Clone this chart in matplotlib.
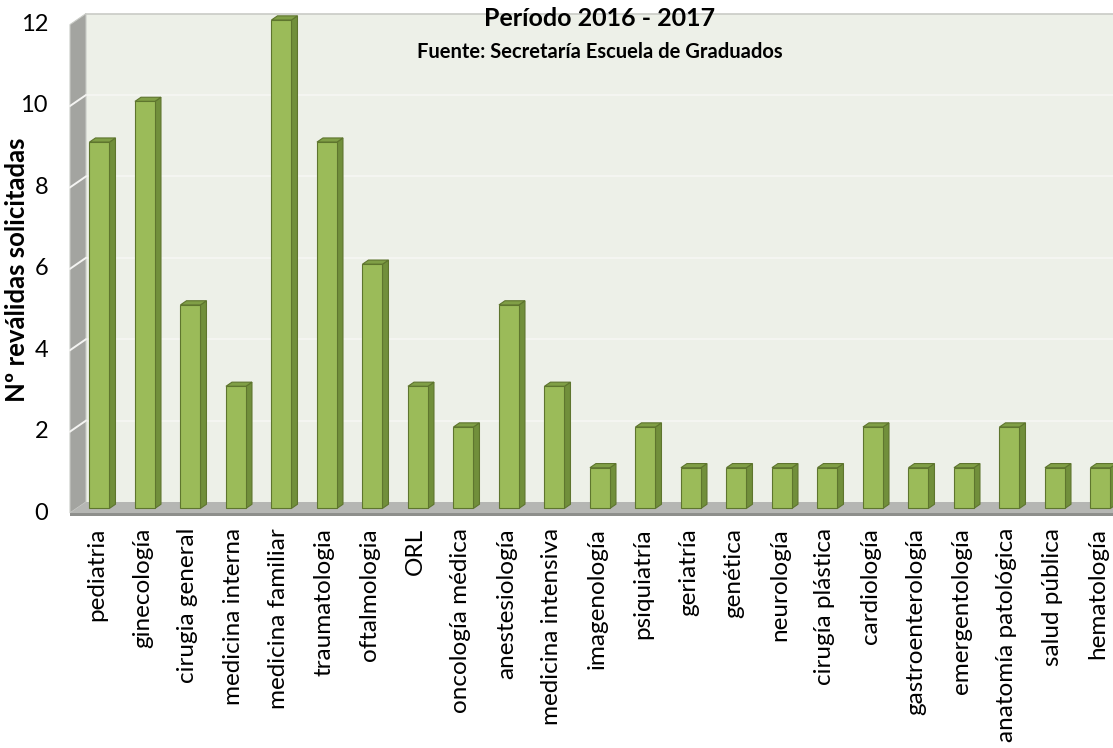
import matplotlib
matplotlib.use("Agg")
import matplotlib.pyplot as plt
from matplotlib.patches import Polygon

plt.rcParams['font.family'] = ['Lato', 'DejaVu Sans']

# --- data ---------------------------------------------------------------
categories = [
    "pediatria", "ginecología", "cirugia general", "medicina interna",
    "medicina familiar", "traumatologia", "oftalmologia", "ORL",
    "oncología médica", "anestesiología", "medicina intensiva",
    "imagenología", "psiquiatría", "geriatría", "genética", "neurología",
    "cirugía plástica", "cardiología", "gastroenterología",
    "emergentología", "anatomía patológica", "salud pública", "hematología",
]
values = [9, 10, 5, 3, 12, 9, 6, 3, 2, 5, 3, 1, 2, 1, 1, 1, 1, 2, 1, 1, 2, 1, 1]
y_ticks = [0, 2, 4, 6, 8, 10, 12]
title = "Período 2016 - 2017"
subtitle = "Fuente: Secretaría Escuela de Graduados"
y_label = "Nº reválidas solicitadas"

# --- figure / pseudo-3D geometry -----------------------------------------
W, H, DPI = 1113, 748, 100
fig = plt.figure(figsize=(W / DPI, H / DPI), dpi=DPI)
ax = fig.add_axes([0, 0, 1, 1])
ax.set_axis_off()

px_x = 45.5   # pixels per category
px_y = 40.7   # pixels per unit of value
x0_px, y0_px = 70, 513   # front-left corner of the floor
ax.set_xlim(-0.5 - x0_px / px_x, -0.5 + (W - x0_px) / px_x)
ax.set_ylim(-(H - y0_px) / px_y, y0_px / px_y)

n = len(categories)
ymax = 12
DX, DY = 16 / px_x, 11 / px_y        # full depth of the box
left, right = -0.5, n - 0.5 + 1.0

# back wall
ax.add_patch(Polygon([(left + DX, DY), (right + DX, DY),
                      (right + DX, ymax + DY), (left + DX, ymax + DY)],
                     closed=True, fc="#EDF0E8", ec="none", zorder=1))
ax.plot([left + DX, right + DX], [ymax + DY, ymax + DY],
        color="#C9CBC6", lw=1.2, zorder=2)
for t in y_ticks[1:-1]:
    ax.plot([left + DX, right + DX], [t + DY, t + DY],
            color="#F5F6F2", lw=1.4, zorder=2)

# side wall
ax.add_patch(Polygon([(left, 0), (left + DX, DY), (left + DX, ymax + DY),
                      (left, ymax)], closed=True, fc="#A3A4A0",
                     ec="#C9CBC6", lw=0.8, zorder=3))
for t in y_ticks[1:-1]:
    ax.plot([left, left + DX], [t, t + DY], color="#F4F4F2", lw=1.4, zorder=4)

# floor
ax.add_patch(Polygon([(left, 0), (left + DX, DY), (right + DX, DY),
                      (right, 0)], closed=True, fc="#B5B6B3", ec="none",
                     zorder=3))
ax.add_patch(Polygon([(left, 0), (right, 0), (right, -2.5 / px_y),
                      (left, -2.5 / px_y)], closed=True, fc="#8E8F8C",
                     ec="none", zorder=3))

# bars
bw = 20 / px_x
bd = 0.375            # bar depth as a fraction of the box depth
f0 = 0.42             # depth position of the bar front face
front_c, side_c, top_c, edge_c = "#9BBB59", "#718F3B", "#809F46", "#5E752E"
for i, v in enumerate(values):
    ox, oy = f0 * DX, f0 * DY
    ddx, ddy = bd * DX, bd * DY
    xl, xr = i - bw / 2 + ox, i + bw / 2 + ox
    yb, yt = oy, v + oy
    ax.add_patch(Polygon([(xr, yb), (xr + ddx, yb + ddy), (xr + ddx, yt + ddy),
                          (xr, yt)], closed=True, fc=side_c, ec=edge_c,
                         lw=0.8, zorder=10 + i))
    ax.add_patch(Polygon([(xl, yt), (xr, yt), (xr + ddx, yt + ddy),
                          (xl + ddx, yt + ddy)], closed=True, fc=top_c,
                         ec=edge_c, lw=0.8, zorder=10 + i))
    ax.add_patch(Polygon([(xl, yb), (xr, yb), (xr, yt), (xl, yt)],
                         closed=True, fc=front_c, ec=edge_c, lw=0.8,
                         zorder=10 + i))

# y tick labels
for t in y_ticks:
    ax.text(left - 22 / px_x, t, str(t), ha="right", va="center",
            fontsize=17, color="#000000")

# category labels
for i, c in enumerate(categories):
    ax.text(i + 4 / px_x, -15 / px_y, c, rotation=90, ha="center", va="top",
            fontsize=17.5, color="#000000")

# axis title
ax.text(-0.5 - 53 / px_x, (y0_px - 270) / px_y, y_label, rotation=90,
        ha="center", va="center", fontsize=18.5, fontweight="bold",
        color="#000000")

# chart titles
xc = -0.5 + (600 - x0_px) / px_x
ax.text(xc, (y0_px - 19) / px_y, title, ha="center", va="center",
        fontsize=18, fontweight="bold", color="#000000", zorder=40)
ax.text(xc, (y0_px - 52) / px_y, subtitle, ha="center", va="center",
        fontsize=14.5, fontweight="bold", color="#000000", zorder=40)

fig.savefig("out.png", dpi=DPI)
